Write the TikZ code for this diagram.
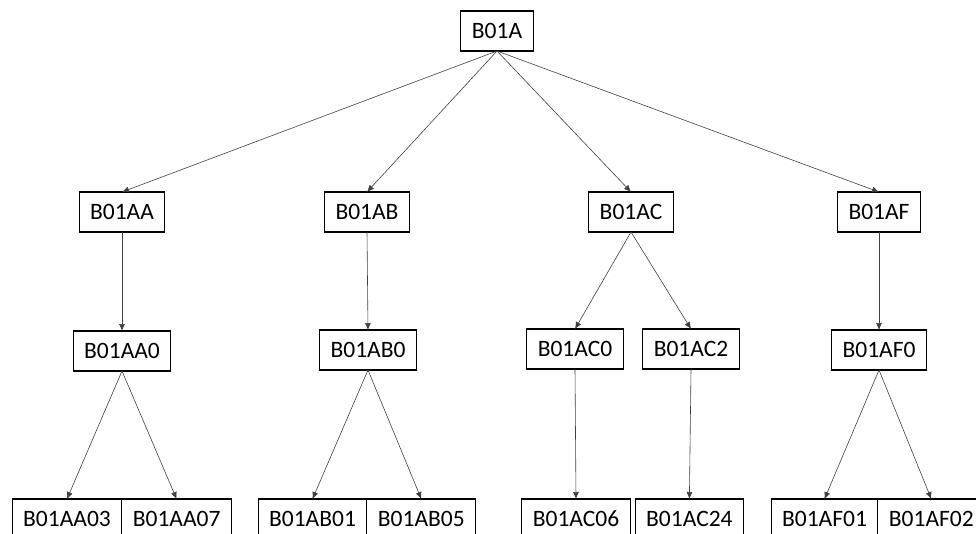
\documentclass[tikz,border=0pt]{standalone}
\usepackage{fontspec}
\setmainfont{Carlito}
\usetikzlibrary{arrows.meta,positioning}

\begin{document}
\begin{tikzpicture}[x=1pt,y=-1pt,
    code/.style={draw,line width=1.1pt,outer sep=0pt,inner xsep=11pt,inner ysep=0pt,
        minimum height=40pt,font=\fontsize{23.5}{28}\selectfont},
    link/.style={draw=black!75,line width=0.6pt,-{Latex[length=7pt,width=6pt]}}]
    \useasboundingbox (0,0) rectangle (976,533);
    \clip (0,0) rectangle (976,533);

    \node[code] (root) at (497,31) {B01A};

    \node[code] (aa) at (122,212) {B01AA};
    \node[code] (ab) at (367,212) {B01AB};
    \node[code] (ac) at (631,212) {B01AC};
    \node[code] (af) at (879,212) {B01AF};

    \node[code] (aa0) at (122,351) {B01AA0};
    \node[code] (ab0) at (368,350) {B01AB0};
    \node[code] (ac0) at (575,349) {B01AC0};
    \node[code] (ac2) at (691,349) {B01AC2};
    \node[code] (af0) at (879,350) {B01AF0};

    \node[code] (aa03) at (67,519) {B01AA03};
    \node[code,right=0pt of aa03] (aa07) {B01AA07};
    \node[code] (ab01) at (312.5,519) {B01AB01};
    \node[code,right=0pt of ab01] (ab05) {B01AB05};
    \node[code] (ac06) at (576,519) {B01AC06};
    \node[code,right=5pt of ac06] (ac24) {B01AC24};
    \node[code] (af01) at (824.5,519) {B01AF01};
    \node[code,right=0pt of af01] (af02) {B01AF02};

    % \foreach \n in {aa,ab,ac,af}{
    %     \fill[red] (\n.north) circle (2pt);
    % }
    \foreach \p/\c in {root/aa,root/ab,root/ac,root/af,aa/aa0,ab/ab0,ac/ac0,ac/ac2,af/af0,
        aa0/aa03,aa0/aa07,ab0/ab01,ab0/ab05,ac0/ac06,ac2/ac24,af0/af01,af0/af02}{
        \draw[link] (\p.south) -- (\c.north);
    }

\end{tikzpicture}
\end{document}
